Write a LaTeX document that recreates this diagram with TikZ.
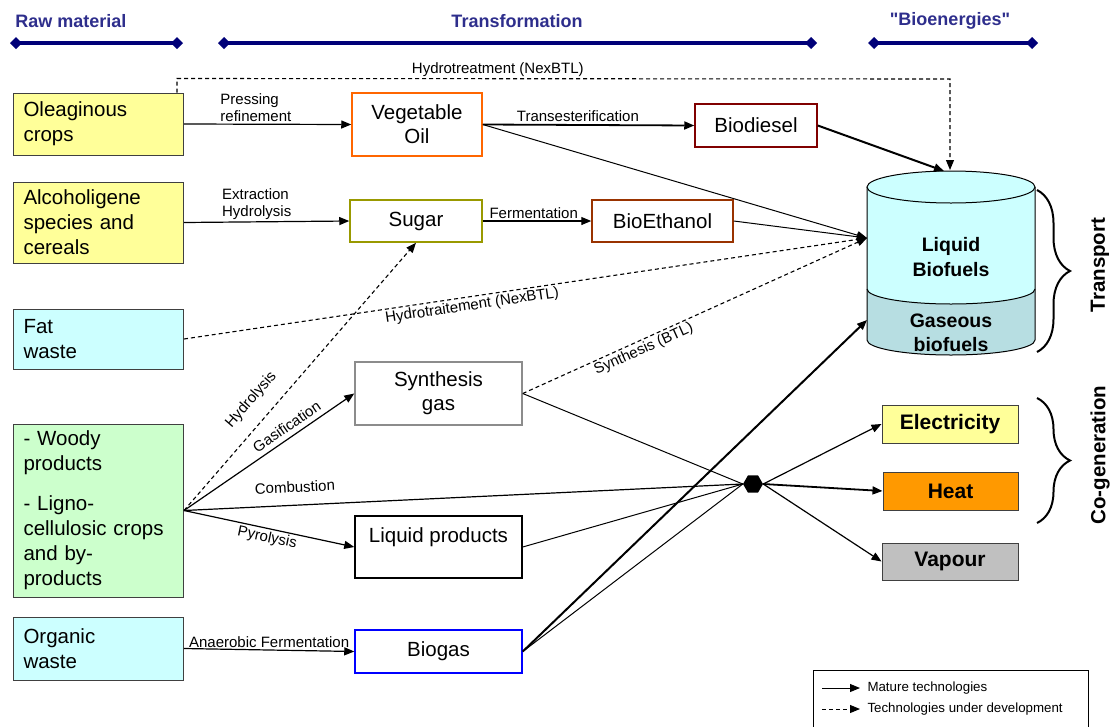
\documentclass[tikz,border=0pt]{standalone}
\usepackage{fontspec}
\setmainfont{Liberation Sans}
\usetikzlibrary{arrows.meta,calc,shapes.geometric,decorations.pathreplacing}
\definecolor{headblue}{RGB}{46,46,140}
\definecolor{headline}{RGB}{0,0,120}
\definecolor{paleyellow}{RGB}{255,255,153}
\definecolor{palecyan}{RGB}{204,255,255}
\definecolor{palegreen}{RGB}{204,255,204}
\definecolor{oilorange}{RGB}{255,102,0}
\definecolor{sugarolive}{RGB}{153,153,0}
\definecolor{ethbrown}{RGB}{153,51,0}
\definecolor{dieselred}{RGB}{128,0,0}
\definecolor{gasteal}{RGB}{183,222,226}
\definecolor{heatorange}{RGB}{255,153,0}
\definecolor{vapourgray}{RGB}{192,192,192}
\newcommand{\dquote}{\XeTeXglyph\XeTeXcharglyph"22\relax}

\begin{document}
\begin{tikzpicture}[x=1pt,y=-1pt,
  rawbox/.style={draw=black!75,line width=1pt,text width=150pt,inner xsep=10pt,inner ysep=0pt,minimum width=169pt,align=left,font=\fontsize{20.5}{25}\selectfont},
  procbox/.style={draw,line width=1.5pt,fill=white,inner sep=0pt,align=center,font=\fontsize{20.5}{24}\selectfont},
  usebox/.style={draw=black!75,line width=1pt,inner sep=0pt,font=\bfseries\fontsize{21}{24}\selectfont},
  mature/.style={-{Triangle[length=10pt,width=8pt]},line width=1.2pt},
  devel/.style={-{Triangle[length=10pt,width=8pt]},line width=1.1pt,dash pattern=on 4pt off 3pt},
  tag/.style={font=\fontsize{15}{17}\selectfont,inner sep=2pt},
  header/.style={headline,line width=3.5pt,{Diamond[length=12pt,width=12pt]}-{Diamond[length=12pt,width=12pt]}},
  headtext/.style={headblue,font=\bfseries\fontsize{18}{20}\selectfont},
  bracket/.style={decorate,decoration={brace,amplitude=33pt},line width=2pt}]
\useasboundingbox (0,0) rectangle (1114,726);

\node[headtext] (rawhead) at (71,21) {Raw material};
\node[headtext] (transhead) at (517,21) {Transformation};
\node[headtext] (energyhead) at (950,21) {\dquote Bioenergies\dquote};
\draw[header] (10,43) -- (183,43);
\draw[header] (218,43) -- (817,43);
\draw[header] (868,43) -- (1038,43);

\node[rawbox,fill=paleyellow,minimum height=62pt] (oleag) at (98.5,124) {Oleaginous\\crops};
\node[rawbox,fill=paleyellow,minimum height=81pt] (alcoh) at (98.5,222.5) {Alcoholigene\\species and\\cereals};
\node[rawbox,fill=palecyan,minimum height=60pt] (fat) at (98.5,339) {Fat\\waste};
\node[rawbox,fill=palegreen,minimum height=173pt] (woody) at (98.5,510.5) {- Woody\\products\\[15pt]- Ligno-\\cellulosic crops\\and by-\\products};
\node[rawbox,fill=palecyan,minimum height=63pt] (organic) at (98.5,648.5) {Organic\\waste};

\node[procbox,draw=oilorange,minimum width=130pt,minimum height=63pt] (vegoil) at (417,124.5) {Vegetable\\Oil};
\node[procbox,draw=sugarolive,minimum width=132pt,minimum height=42pt] (sugar) at (416,221) {Sugar};
\node[procbox,draw=ethbrown,minimum width=141pt,minimum height=42pt] (bioeth) at (662.5,221) {BioEthanol};
\node[procbox,draw=dieselred,minimum width=122pt,minimum height=43pt] (biodiesel) at (756,125.5) {Biodiesel};
\node[procbox,draw=black!45,minimum width=167pt,minimum height=63pt] (syngas) at (438.5,393.5) {Synthesis\\gas};
\node[procbox,draw=black,minimum width=167pt,minimum height=62pt] (liqprod) at (438.5,547) {Liquid products\\~};
\node[procbox,draw=blue,minimum width=167pt,minimum height=43pt] (biogas) at (438.5,651.5) {Biogas};

\fill[gasteal] (867,289) arc[start angle=180,end angle=360,x radius=84pt,y radius=15pt] -- (1035,340) arc[start angle=360,end angle=180,x radius=84pt,y radius=15pt] -- cycle;
\fill[palecyan] (867,187) -- (867,289) arc[start angle=180,end angle=360,x radius=84pt,y radius=15pt] -- (1035,187) -- cycle;
\draw[line width=1pt] (867,187) -- (867,340) arc[start angle=180,end angle=360,x radius=84pt,y radius=15pt] -- (1035,187);
\draw[line width=1pt] (867,289) arc[start angle=180,end angle=360,x radius=84pt,y radius=15pt];
\draw[line width=1pt,fill=palecyan] (951,187) ellipse[x radius=84pt,y radius=16pt];
\node[font=\bfseries\fontsize{19.5}{25}\selectfont,align=center] (liquid) at (951,257) {Liquid\\Biofuels};
\node[font=\bfseries\fontsize{19.5}{24}\selectfont,align=center] (gaseous) at (951,333) {Gaseous\\biofuels};
\coordinate (cylTop) at (950,170);
\coordinate (dieselIn) at (944,171);
\coordinate (cylIn) at (867,238);
\coordinate (cylGas) at (867,320);

\node[usebox,fill=paleyellow,minimum width=136pt,minimum height=38pt] (elec) at (950,424) {Electricity};
\node[usebox,fill=heatorange,minimum width=135pt,minimum height=38pt] (heat) at (950.5,491) {Heat};
\node[usebox,fill=vapourgray,minimum width=136pt,minimum height=37pt] (vapour) at (950,561.5) {Vapour};
\node[regular polygon,regular polygon sides=6,fill=black,inner sep=0pt,minimum size=20pt] (hex) at (753,484) {};

\draw[bracket] (1037,190) -- (1037,352);
\draw[bracket] (1037,398) -- (1037,523);
\node[rotate=90,font=\bfseries\fontsize{20.5}{22}\selectfont] (transport) at (1100,265) {Transport};
\node[rotate=90,font=\bfseries\fontsize{20.5}{22}\selectfont] (cogen) at (1100,455) {Co-generation};

\coordinate (hydroStart) at ($(oleag.north east)+(-7,0)$);
\coordinate (hydroUp) at ($(hydroStart)+(0,-14)$);
\coordinate (hydroCorner) at (950,79);
\draw[devel] (hydroStart) -- (hydroUp) -- node[tag,above,pos=0.415] {Hydrotreatment (NexBTL)} (hydroCorner) -- (cylTop);
\draw[mature] (oleag.east) -- node[tag,above,align=left,pos=0.43] {Pressing\\refinement} (vegoil.west);
\draw[mature,line width=1.8pt] (vegoil.east) -- node[tag,above,pos=0.45] {Transesterification} (biodiesel.west);
\draw[mature,line width=1pt] (vegoil.east) -- (cylIn);
\draw[mature,line width=2pt] (biodiesel.east) -- (dieselIn);
\draw[mature] (alcoh.east) -- node[tag,above,align=left,pos=0.44] {Extraction\\Hydrolysis} (sugar.west);
\draw[mature] (sugar.east) -- node[tag,above,pos=0.47] {Fermentation} (bioeth.west);
\draw[mature,line width=1pt] (bioeth.east) -- (cylIn);
\draw[devel] (fat.east) -- node[tag,sloped,below,pos=0.42] {Hydrotraitement (NexBTL)} (cylIn);
\draw[devel] (woody.east) -- node[tag,sloped,above=12pt,pos=0.36] {Hydrolysis} (sugar.south);
\draw[mature] (woody.east) -- node[tag,sloped,above=3pt,pos=0.64] {Gasification} (syngas.west);
\draw[line width=1.2pt] (woody.east) -- node[tag,sloped,above=10pt,pos=0.2] {Combustion} (hex.west);
\draw[mature] (woody.east) -- node[tag,sloped,below,pos=0.5] {Pyrolysis} (liqprod.west);
\draw[line width=1pt] (syngas.east) -- (hex.west);
\draw[devel] (syngas.east) -- node[tag,sloped,below=0pt,pos=0.34] {Synthesis (BTL)} (cylIn);
\draw[line width=1pt] (liqprod.east) -- (hex.west);
\draw[line width=1pt] (biogas.east) -- (hex.west);
\draw[mature,line width=2pt] (biogas.east) -- (cylGas);
\draw[mature] (organic.east) -- node[tag,above,pos=0.5] {Anaerobic Fermentation} (biogas.west);
\draw[mature] (hex.east) -- (elec.west);
\draw[mature,line width=1.8pt] (hex.east) -- (heat.west);
\draw[mature] (hex.east) -- (vapour.west);

\draw[line width=1pt] (813,670) rectangle (1088,740);
\coordinate (legA) at (822,688);
\coordinate (legB) at (860,688);
\coordinate (legC) at (822,709);
\coordinate (legD) at (860,709);
\draw[mature,line width=1pt] (legA) -- (legB) node[right=7pt,font=\fontsize{13.3}{15}\selectfont,inner sep=0pt] (legmature) {Mature technologies};
\draw[devel,line width=1pt] (legC) -- (legD) node[right=7pt,font=\fontsize{13.3}{15}\selectfont,inner sep=0pt] (legdevel) {Technologies under development};
\end{tikzpicture}
\end{document}
